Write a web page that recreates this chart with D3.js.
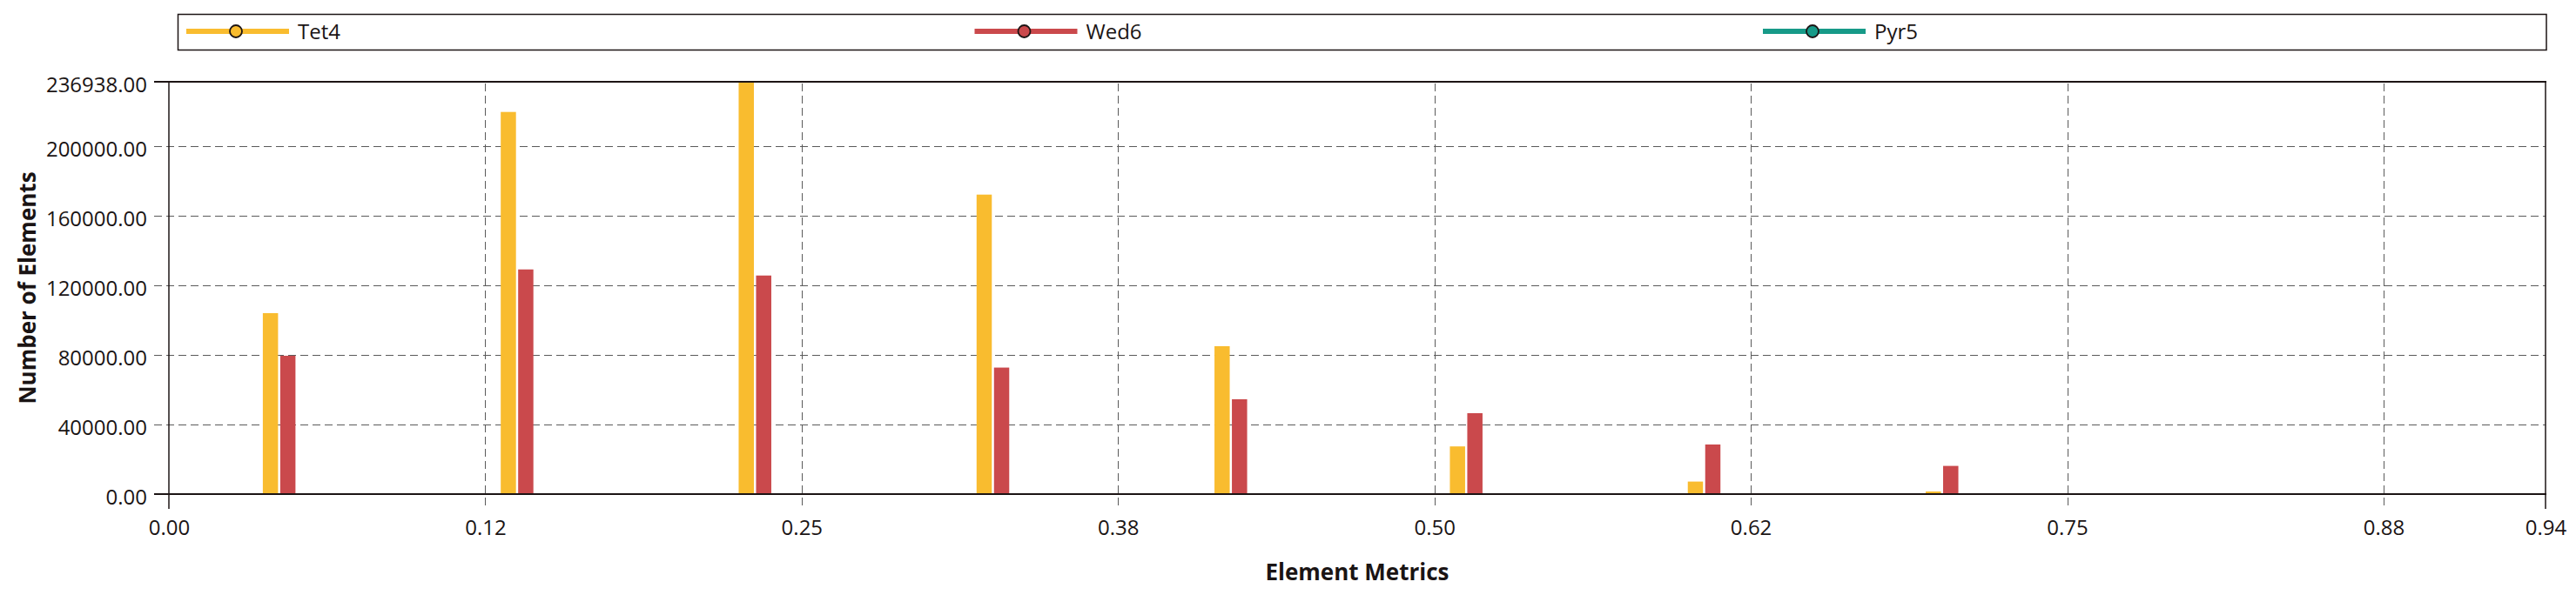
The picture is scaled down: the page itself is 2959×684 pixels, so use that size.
<!DOCTYPE html>
<html>
<head>
<meta charset="utf-8">
<script src="https://cdn.jsdelivr.net/npm/d3@7"></script>
<style>
  html, body { margin: 0; padding: 0; background: #ffffff; }
  svg { display: block; }
  text { font-family: "Open Sans", "Noto Sans", sans-serif; fill: #1a1414; }
</style>
</head>
<body>
<script>
// ---------- data ----------
const seriesNames = ["Tet4", "Wed6", "Pyr5"];
const binCenters = [0.047, 0.141, 0.235, 0.329, 0.423, 0.516, 0.610, 0.704, 0.798, 0.892];
const tet4Values = [104000, 219600, 236938, 172100, 85000, 27400, 7200, 1500, 0, 0];
const wed6Values = [79500, 129100, 125600, 72700, 54500, 46500, 28500, 16200, 0, 0];
const pyr5Values = [0, 0, 0, 0, 0, 0, 0, 0, 0, 0];
const xTickValues = [0, 0.125, 0.25, 0.375, 0.5, 0.625, 0.75, 0.875, 0.939];
const xTickLabels = ["0.00", "0.12", "0.25", "0.38", "0.50", "0.62", "0.75", "0.88", "0.94"];
const yTickValues = [0, 40000, 80000, 120000, 160000, 200000, 236938];
const xDomain = [0, 0.939];
const yDomain = [0, 236938];
const xTitle = "Element Metrics";
const yTitle = "Number of Elements";

(function () {
// ---------- styles ----------
const colors = ["#F9BC2F", "#CA494C", "#179A88"];
const W = 2959, H = 684;
const pLeft = 194, pRight = 2924, pTop = 94, pBottom = 568;
const tickLen = 17;
const barW = 17.5, barGap = 2.5;
const gridColor = "#5a5a5a";
const axisColor = "#1c1414";

const svg = d3.select("body").append("svg").attr("width", W).attr("height", H);

const x = d3.scaleLinear().domain(xDomain).range([pLeft, pRight]);
const y = d3.scaleLinear().domain(yDomain).range([pBottom, pTop]);

// ---------- grid ----------
const innerX = xTickValues.filter(v => v > xDomain[0] && v < xDomain[1]);
const innerY = yTickValues.filter(v => v > yDomain[0] && v < yDomain[1]);

svg.append("g").selectAll("line").data(innerX).join("line")
  .attr("x1", d => Math.round(x(d)) + 0.5).attr("x2", d => Math.round(x(d)) + 0.5)
  .attr("y1", pTop + 2).attr("y2", pBottom + tickLen)
  .attr("stroke", gridColor).attr("stroke-width", 1)
  .attr("stroke-dasharray", "9,5");

svg.append("g").selectAll("line").data(innerY).join("line")
  .attr("x1", pLeft - tickLen).attr("x2", pRight)
  .attr("y1", d => Math.round(y(d)) + 0.5).attr("y2", d => Math.round(y(d)) + 0.5)
  .attr("stroke", gridColor).attr("stroke-width", 1)
  .attr("stroke-dasharray", "9,5");

// ---------- bars ----------
const allSeries = [tet4Values, wed6Values, pyr5Values];
allSeries.forEach((vals, si) => {
  const offset = (si - 1) * (barW + barGap) - barW / 2;
  svg.append("g").selectAll("rect").data(vals.map((v, i) => ({ v, c: binCenters[i] })))
    .join("rect")
    .attr("x", d => x(d.c) + offset)
    .attr("width", barW)
    .attr("y", d => y(d.v))
    .attr("height", d => y(0) - y(d.v))
    .attr("fill", colors[si]);
});

// ---------- frame / axes ----------
const frame = svg.append("g").attr("stroke", axisColor).attr("fill", "none");
frame.append("line").attr("x1", pLeft - tickLen).attr("x2", pRight + 1).attr("y1", pTop).attr("y2", pTop).attr("stroke-width", 2);
frame.append("line").attr("x1", pLeft - tickLen).attr("x2", pRight + 1).attr("y1", pBottom).attr("y2", pBottom).attr("stroke-width", 2);
frame.append("line").attr("x1", pLeft).attr("x2", pLeft).attr("y1", pTop).attr("y2", pBottom + tickLen).attr("stroke-width", 1.5);
frame.append("line").attr("x1", pRight).attr("x2", pRight).attr("y1", pTop).attr("y2", pBottom + tickLen).attr("stroke-width", 1.5);

// x axis labels via d3 axis
const xAxis = d3.axisBottom(x).tickValues(xTickValues)
  .tickFormat((d, i) => xTickLabels[i]).tickSize(0).tickPadding(0);
const gx = svg.append("g").attr("transform", `translate(0,${pBottom})`).call(xAxis);
gx.select(".domain").remove();
gx.selectAll("text").attr("y", 47).attr("dy", null)
  .style("font-size", "24px").style("font-family", "'Open Sans', 'Noto Sans', sans-serif").attr("fill", "#1a1414");

// y axis labels
const yAxis = d3.axisLeft(y).tickValues(yTickValues)
  .tickFormat(d3.format(".2f")).tickSize(0).tickPadding(0);
const gy = svg.append("g").attr("transform", `translate(${pLeft},0)`).call(yAxis);
gy.select(".domain").remove();
gy.selectAll("text").attr("x", -25).attr("dy", "0.47em")
  .style("font-size", "24px").style("font-family", "'Open Sans', 'Noto Sans', sans-serif").attr("fill", "#1a1414");

// ---------- titles ----------
svg.append("text")
  .attr("x", (pLeft + pRight) / 2).attr("y", 667)
  .attr("text-anchor", "middle")
  .style("font-size", "26px").style("font-weight", "bold")
  .text(xTitle);

svg.append("text")
  .attr("transform", `translate(41,${(pTop + pBottom) / 2}) rotate(-90)`)
  .attr("text-anchor", "middle")
  .style("font-size", "26px").style("font-weight", "bold")
  .text(yTitle);

// ---------- legend ----------
svg.append("rect")
  .attr("x", 204.5).attr("y", 16.5).attr("width", 2925 - 204.5).attr("height", 41)
  .attr("fill", "#fff").attr("stroke", axisColor).attr("stroke-width", 1.5);

const legendStep = 905.5;
const lg = svg.append("g").selectAll("g").data(seriesNames).join("g")
  .attr("transform", (d, i) => `translate(${214 + i * legendStep},36)`);
lg.append("line").attr("x1", 0).attr("x2", 118).attr("y1", 0).attr("y2", 0)
  .attr("stroke", (d, i) => colors[i]).attr("stroke-width", 6);
lg.append("circle").attr("cx", 57).attr("cy", 0).attr("r", 7)
  .attr("fill", (d, i) => colors[i]).attr("stroke", "#1c1414").attr("stroke-width", 1.8);
lg.append("text").attr("x", 128).attr("y", 9)
  .style("font-size", "24px")
  .text(d => d);
})();
</script>
</body>
</html>
